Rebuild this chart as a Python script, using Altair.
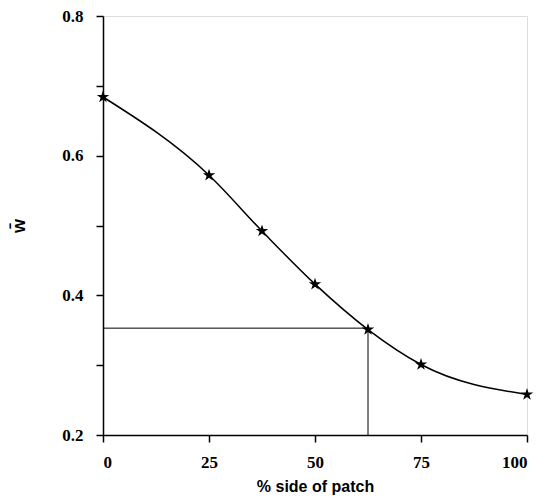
import altair as alt
import pandas as pd

x_vals = [0, 25, 37.5, 50, 62.5, 75, 100]
w_vals = [0.684, 0.572, 0.492, 0.416, 0.351, 0.301, 0.258]

ref_x = [0, 62.5]
ref_y = [0.353, 0.353]
vref_x = [62.5, 62.5]
vref_y = [0.2, 0.353]

df = pd.DataFrame({"x": x_vals, "w": w_vals})
href = pd.DataFrame({"x": ref_x, "w": ref_y})
vref = pd.DataFrame({"x": vref_x, "w": vref_y})

STAR = ("M0,-1L0.2245,-0.309L0.951,-0.309L0.363,0.118L0.588,0.809L0,0.382"
        "L-0.588,0.809L-0.363,0.118L-0.951,-0.309L-0.2245,-0.309Z")

xs = alt.Scale(domain=[0, 100], nice=False)
ys = alt.Scale(domain=[0.2, 0.8], nice=False)

xax = alt.Axis(values=[0, 25, 50, 75, 100], title="% side of patch", grid=False, orient="bottom",
               labelFont="Liberation Serif", labelFontWeight="bold", labelFontSize=17,
               labelColor="black", tickColor="black", domainColor="black",
               tickSize=7, labelPadding=12, domainWidth=1.5, tickWidth=1.5,
               titleFont="Liberation Sans", titleFontWeight="bold", titleFontSize=16,
               titleColor="black", titlePadding=8)
yax = alt.Axis(values=[0.2, 0.3, 0.4, 0.5, 0.6, 0.7, 0.8], title="w̄", grid=False, orient="left",
               labelExpr="round(datum.value * 10) % 2 == 0 ? format(datum.value, '.1f') : ''",
               labelFont="Liberation Serif", labelFontWeight="bold", labelFontSize=17,
               labelColor="black", tickColor="black", domainColor="black",
               tickSize=7, labelPadding=13, domainWidth=1.5, tickWidth=1.5,
               titleFont="Liberation Sans", titleFontWeight="bold", titleFontSize=18,
               titleColor="black", titlePadding=33)

X = alt.X("x:Q", scale=xs, axis=xax)
Y = alt.Y("w:Q", scale=ys, axis=yax)

h = alt.Chart(href).mark_line(color="black", strokeWidth=1).encode(x=X, y=Y)
v = alt.Chart(vref).mark_line(color="black", strokeWidth=1).encode(x=X, y=Y)
line = alt.Chart(df).mark_line(interpolate="monotone", color="black", strokeWidth=1.5).encode(x=X, y=Y)
pts = alt.Chart(df).mark_point(shape=STAR, filled=True, color="black", size=170, opacity=1).encode(x=X, y=Y)

chart = alt.layer(h, v, line, pts).properties(
    width=424, height=419,
    autosize=alt.AutoSizeParams(type="none"),
    padding={"left": 95, "top": 8, "right": 13, "bottom": 64},
).configure_view(stroke="black", strokeWidth=1.5).configure(background="white")

chart.save("out.html", embed_options={"renderer": "svg", "actions": False})
